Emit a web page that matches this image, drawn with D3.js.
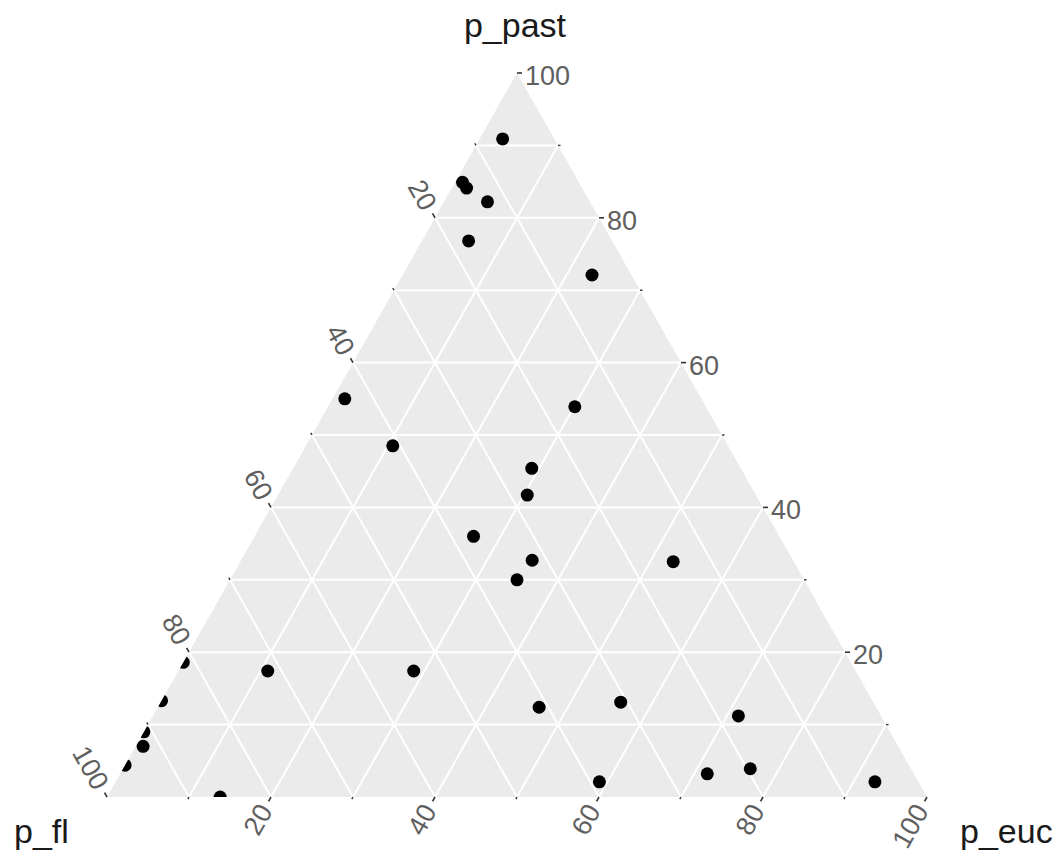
<!DOCTYPE html>
<html>
<head>
<meta charset="utf-8">
<script src="https://cdn.jsdelivr.net/npm/d3@7"></script>
<style>
    body { margin: 0; background: #fff; }
    text { font-family: "Liberation Sans", Arial, sans-serif; }
</style>
</head>
<body>
<div id="chart"></div>
<script>
// Data (percentages, each row sums to 100)
const p_fl   = [6.3, 14.2, 14.1, 12.5, 17.5, 4.8, 43.5, 16.0, 40.9, 25.5, 27.9, 37.3, 31.8, 35.0, 14.7,
                71.7, 53.9, 41.1, 30.8, 17.4, 38.9, 25.2, 19.6, 5.3, 92.1, 81.4, 86.7, 91.0, 95.6, 86.2];
const p_past = [90.9, 84.9, 84.1, 82.2, 76.8, 72.1, 55.0, 53.9, 48.5, 45.4, 41.7, 36.0, 32.7, 30.0, 32.5,
                17.4, 17.4, 12.4, 13.1, 11.2, 2.1, 3.2, 3.9, 2.1, 7.0, 18.6, 13.3, 9.0, 4.4, 0];
const p_euc  = [2.8, 0.9, 1.8, 5.3, 5.7, 23.1, 1.5, 30.1, 10.6, 29.1, 30.4, 26.7, 35.5, 35.0, 52.8,
                10.9, 28.7, 46.5, 56.1, 71.4, 59.0, 71.6, 76.5, 92.6, 0.9, 0, 0, 0, 0, 13.8];

const majorTicks = [20, 40, 60, 80, 100];
const minorTicks = [10, 30, 50, 70, 90];
const gridValues = [10, 20, 30, 40, 50, 60, 70, 80, 90];

// Configuration
const config = {
    width: 1057,
    height: 854,
    left: 107,
    right: 927,
    top: 73,
    bottom: 797,
    pointRadius: 6.5
};

const svg = d3.select('#chart')
    .append('svg')
    .attr('width', config.width)
    .attr('height', config.height);

// Scales: vertical follows p_past, horizontal follows p_euc + p_past/2
const yScale = d3.scaleLinear().domain([0, 100]).range([config.bottom, config.top]);
const xScale = d3.scaleLinear().domain([0, 100]).range([config.left, config.right]);

function project(fl, past, euc) {
    return [xScale(euc + past / 2), yScale(past)];
}

const corners = [project(100, 0, 0), project(0, 100, 0), project(0, 0, 100)];

// Panel
svg.append('polygon')
    .attr('points', corners.map(p => p.join(',')).join(' '))
    .attr('fill', '#ebebeb');

svg.append('clipPath')
    .attr('id', 'tri-clip')
    .append('polygon')
    .attr('points', corners.map(p => p.join(',')).join(' '));

// Grid lines for the three axes
const gridLines = [];
gridValues.forEach(v => {
    gridLines.push([project(100 - v, v, 0), project(0, v, 100 - v)]);   // p_past
    gridLines.push([project(v, 100 - v, 0), project(v, 0, 100 - v)]);   // p_fl
    gridLines.push([project(100 - v, 0, v), project(0, 100 - v, v)]);   // p_euc
});

svg.append('g')
    .selectAll('line')
    .data(gridLines)
    .join('line')
    .attr('x1', d => d[0][0])
    .attr('y1', d => d[0][1])
    .attr('x2', d => d[1][0])
    .attr('y2', d => d[1][1])
    .attr('stroke', '#ffffff')
    .attr('stroke-width', 2);

// Outward unit vectors for ticks
function unit(a, b) {
    const dx = b[0] - a[0], dy = b[1] - a[1];
    const len = Math.hypot(dx, dy);
    return [dx / len, dy / len];
}
const flDir = unit(project(0, 0, 100), project(0, 100, 0));   // up-left along p_fl isolines
const eucDir = unit(project(0, 100, 0), project(100, 0, 0));  // down-left along p_euc isolines
const pastDir = [1, 0];

const axes = [
    { pos: v => project(v, 100 - v, 0), dir: flDir, angle: Math.atan2(-flDir[1], -flDir[0]) * 180 / Math.PI },
    { pos: v => project(100 - v, 0, v), dir: eucDir, angle: Math.atan2(-eucDir[1], -eucDir[0]) * 180 / Math.PI },
    { pos: v => project(0, v, 100 - v), dir: pastDir, angle: 0 }
];

const tickG = svg.append('g');
axes.forEach((ax, i) => {
    majorTicks.forEach(v => {
        const p = ax.pos(v);
        tickG.append('line')
            .attr('x1', p[0]).attr('y1', p[1])
            .attr('x2', p[0] + ax.dir[0] * 5).attr('y2', p[1] + ax.dir[1] * 5)
            .attr('stroke', '#333').attr('stroke-width', 1.6);

        if (i === 2) {
            tickG.append('text')
                .attr('x', p[0] + 8)
                .attr('y', p[1] + 3)
                .attr('dominant-baseline', 'central')
                .attr('font-size', 27)
                .attr('fill', '#5f5f5f')
                .text(v);
        } else {
            const lx = p[0] + ax.dir[0] * 11, ly = p[1] + ax.dir[1] * 11;
            tickG.append('text')
                .attr('transform', `translate(${lx},${ly}) rotate(${ax.angle})`)
                .attr('text-anchor', 'end')
                .attr('dominant-baseline', 'central')
                .attr('font-size', 27)
                .attr('fill', '#5f5f5f')
                .text(v);
        }
    });
    minorTicks.forEach(v => {
        const p = ax.pos(v);
        tickG.append('line')
            .attr('x1', p[0]).attr('y1', p[1])
            .attr('x2', p[0] + ax.dir[0] * 2.5).attr('y2', p[1] + ax.dir[1] * 2.5)
            .attr('stroke', '#333').attr('stroke-width', 1.4);
    });
});

// Points
const points = p_fl.map((fl, i) => project(fl, p_past[i], p_euc[i]));
svg.append('g')
    .attr('clip-path', 'url(#tri-clip)')
    .selectAll('circle')
    .data(points)
    .join('circle')
    .attr('cx', d => d[0])
    .attr('cy', d => d[1])
    .attr('r', config.pointRadius)
    .attr('fill', '#000');

// Vertex titles
const titles = svg.append('g')
    .attr('font-size', 34)
    .attr('fill', '#1a1a1a');
titles.append('text').attr('x', 515).attr('y', 37).attr('text-anchor', 'middle').text('p_past');
titles.append('text').attr('x', 14).attr('y', 843).text('p_fl');
titles.append('text').attr('x', 960).attr('y', 843).text('p_euc');
</script>
</body>
</html>
